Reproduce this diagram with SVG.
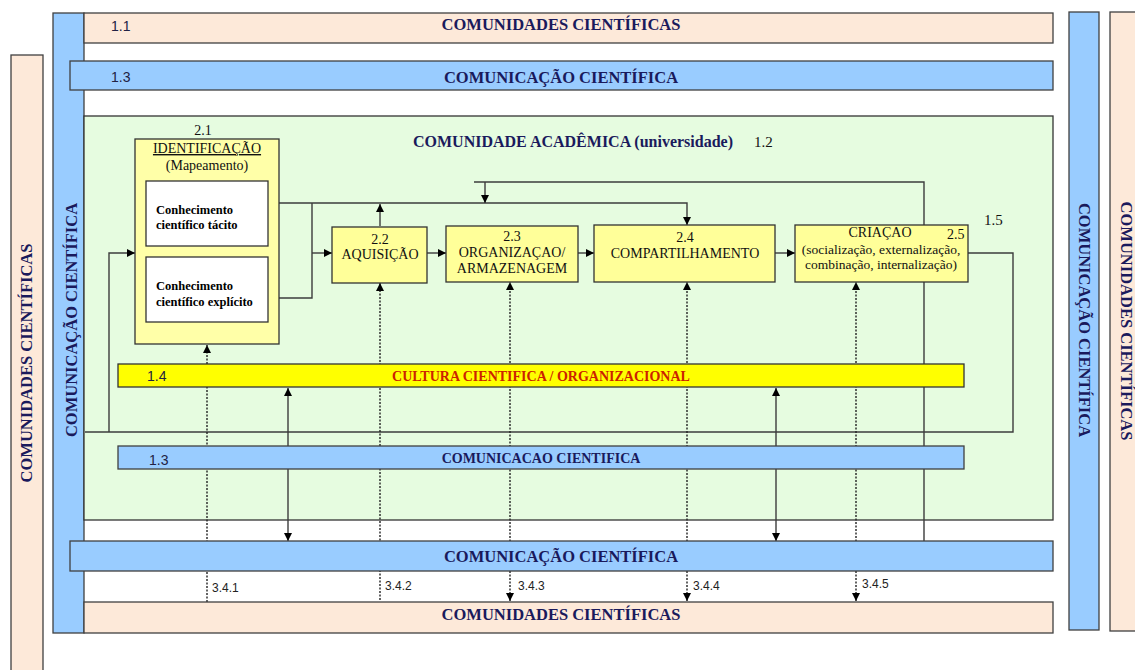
<svg xmlns="http://www.w3.org/2000/svg" width="1135" height="670" viewBox="0 0 1135 670">
<defs>
<style>
.peach{fill:#fde9d9;stroke:#404040;stroke-width:1.3}
.blue{fill:#99ccff;stroke:#404040;stroke-width:1.3}
.green{fill:#e6fce0;stroke:#333;stroke-width:1.3}
.box{fill:#ffff99;stroke:#333;stroke-width:1.3}
.ibox{fill:#ffffa8;stroke:#333;stroke-width:1.3}
.wbox{fill:#fff;stroke:#333;stroke-width:1.3}
.ln{fill:none;stroke:#3c3c3c;stroke-width:1.4}
.dot{fill:none;stroke:#222;stroke-width:1.4;stroke-dasharray:2 1.5}
.hd{font-family:"Liberation Serif",serif;font-weight:bold;fill:#1a1a5c}
.sr{font-family:"Liberation Serif",serif;fill:#111}
.num{font-family:"Liberation Sans",sans-serif;fill:#222244;font-size:14px}
.sm{font-family:"Liberation Sans",sans-serif;fill:#222;font-size:12px}
.kb{font-family:"Liberation Serif",serif;font-weight:bold;fill:#000;font-size:12.5px}
</style>
<marker id="ah" viewBox="0 0 10 10" refX="10" refY="5" markerWidth="9" markerHeight="8" orient="auto-start-reverse" markerUnits="userSpaceOnUse">
<path d="M0,0 L10,5 L0,10 z" fill="#000"/>
</marker>
</defs>
<rect width="1135" height="670" fill="#fff"/>

<g id="background">
<g id="left-peach">
<rect class="peach" x="11" y="55" width="32" height="630"/>
<text class="hd" font-size="16.5" transform="translate(32,363) rotate(-90)" text-anchor="middle">COMUNIDADES CIENTÍFICAS</text>
</g>
<g id="left-blue">
<rect class="blue" x="53" y="13" width="31" height="620"/>
<text class="hd" font-size="16.5" transform="translate(77,320) rotate(-90)" text-anchor="middle">COMUNICAÇÃO CIENTÍFICA</text>
</g>
<g id="right-blue">
<rect class="blue" x="1069" y="12" width="30" height="618"/>
<text class="hd" font-size="16.5" transform="translate(1079,320) rotate(90)" text-anchor="middle">COMUNICAÇÃO CIENTÍFICA</text>
</g>
<g id="right-peach">
<rect class="peach" x="1110" y="12" width="40" height="619"/>
<text class="hd" font-size="16.5" transform="translate(1121,321) rotate(90)" text-anchor="middle">COMUNIDADES CIENTÍFICAS</text>
</g>
<g id="top-peach">
<rect class="peach" x="84" y="13" width="969" height="30"/>
<text class="num" x="111" y="31">1.1</text>
<text class="hd" font-size="16.5" x="561" y="30" text-anchor="middle">COMUNIDADES CIENTÍFICAS</text>
</g>
<g id="top-blue">
<rect class="blue" x="70" y="61" width="983" height="29"/>
<text class="num" x="111" y="82">1.3</text>
<text class="hd" font-size="16.5" x="561" y="83" text-anchor="middle">COMUNICAÇÃO CIENTÍFICA</text>
</g>
<g id="academic">
<rect class="green" x="84" y="116" width="969" height="404"/>
<text class="hd" font-size="16" x="413" y="147">COMUNIDADE ACADÊMICA (universidade)</text>
<text class="sr" font-size="15" x="754" y="147">1.2</text>
<text class="sr" font-size="15" x="984" y="225">1.5</text>
</g>
</g>

<g id="connectors">
<path class="ln" d="M968,253 H1013 V432 H85"/>
<path class="ln" d="M109,432 V253 H135" marker-end="url(#ah)"/>
<path class="ln" d="M268,203 H687 V225" marker-end="url(#ah)"/>
<path class="ln" d="M268,298 H312 V203"/>
<path class="ln" d="M312,253 H332" marker-end="url(#ah)"/>
<path class="ln" d="M380,226 V204" marker-end="url(#ah)"/>
<path class="ln" d="M924,541 V182 H474"/>
<path class="ln" d="M485,182 V203" marker-end="url(#ah)"/>
<path class="ln" d="M427,253 H446" marker-end="url(#ah)"/>
<path class="ln" d="M578,253 H594" marker-end="url(#ah)"/>
<path class="ln" d="M775,253 H795" marker-end="url(#ah)"/>
<path class="ln" d="M288,541 V388" marker-start="url(#ah)" marker-end="url(#ah)"/>
<path class="ln" d="M776,541 V388" marker-start="url(#ah)" marker-end="url(#ah)"/>
<path class="dot" d="M207,602 V345" marker-end="url(#ah)"/>
<path class="dot" d="M380,600 V283" marker-end="url(#ah)"/>
<path class="dot" d="M510,601 V282" marker-start="url(#ah)" marker-end="url(#ah)"/>
<path class="dot" d="M687,601 V282" marker-start="url(#ah)" marker-end="url(#ah)"/>
<path class="dot" d="M856,601 V282" marker-start="url(#ah)" marker-end="url(#ah)"/>
</g>

<g id="bar-cultura">
<rect x="118" y="364" width="846" height="23" fill="#ffff00" stroke="#333" stroke-width="1.3"/>
<text class="num" x="147" y="381">1.4</text>
<text font-family="Liberation Serif, serif" font-weight="bold" font-size="14" fill="#cc2200" x="541" y="381" text-anchor="middle">CULTURA CIENTIFICA / ORGANIZACIONAL</text>
</g>
<g id="bar-comunicacao-inner">
<rect class="blue" x="118" y="446" width="846" height="23"/>
<text class="num" x="149" y="465">1.3</text>
<text class="hd" font-size="14" x="541" y="463" text-anchor="middle">COMUNICACAO CIENTIFICA</text>
</g>
<g id="bottom-blue">
<rect class="blue" x="70" y="541" width="983" height="30"/>
<text class="hd" font-size="16.5" x="561" y="562" text-anchor="middle">COMUNICAÇÃO CIENTÍFICA</text>
</g>
<g id="bottom-peach">
<rect class="peach" x="84" y="602" width="969" height="31"/>
<text class="hd" font-size="16.5" x="561" y="620" text-anchor="middle">COMUNIDADES CIENTÍFICAS</text>
</g>
<g id="labels-3-4">
<text class="sm" x="212" y="592">3.4.1</text>
<text class="sm" x="385" y="590">3.4.2</text>
<text class="sm" x="518" y="590">3.4.3</text>
<text class="sm" x="693" y="590">3.4.4</text>
<text class="sm" x="862" y="588">3.4.5</text>
</g>

<g id="identificacao">
<rect class="ibox" x="135" y="139" width="144" height="205"/>
<text class="sr" font-size="14" x="203" y="135" text-anchor="middle">2.1</text>
<text class="sr" font-size="14" x="207" y="153" text-anchor="middle" text-decoration="underline">IDENTIFICAÇÃO</text>
<text class="sr" font-size="14" x="207" y="170" text-anchor="middle">(Mapeamento)</text>
<g id="tacito">
<rect class="wbox" x="146" y="181" width="122" height="65"/>
<text class="kb" x="156" y="214">Conhecimento</text>
<text class="kb" x="156" y="229">científico tácito</text>
</g>
<g id="explicito">
<rect class="wbox" x="146" y="257" width="122" height="65"/>
<text class="kb" x="156" y="290">Conhecimento</text>
<text class="kb" x="156" y="306">científico explícito</text>
</g>
</g>
<g id="aquisicao">
<rect class="box" x="332" y="227" width="95" height="56"/>
<text class="sr" font-size="14" x="380" y="244" text-anchor="middle">2.2</text>
<text class="sr" font-size="14" x="380" y="259" text-anchor="middle">AQUISIÇÃO</text>
</g>
<g id="organizacao">
<rect class="box" x="446" y="226" width="132" height="56"/>
<text class="sr" font-size="14" x="512" y="241" text-anchor="middle">2.3</text>
<text class="sr" font-size="14" x="512" y="257" text-anchor="middle">ORGANIZAÇAO/</text>
<text class="sr" font-size="14" x="512" y="273" text-anchor="middle">ARMAZENAGEM</text>
</g>
<g id="compartilhamento">
<rect class="box" x="594" y="225" width="181" height="57"/>
<text class="sr" font-size="14" x="685" y="242" text-anchor="middle">2.4</text>
<text class="sr" font-size="14" x="685" y="258" text-anchor="middle">COMPARTILHAMENTO</text>
</g>
<g id="criacao">
<rect class="box" x="795" y="225" width="173" height="57"/>
<text class="sr" font-size="14" x="880" y="237" text-anchor="middle">CRIAÇAO</text>
<text class="sr" font-size="14" x="947" y="239">2.5</text>
<text class="sr" font-size="13.5" x="881" y="254" text-anchor="middle">(socialização, externalização,</text>
<text class="sr" font-size="13.5" x="881" y="269" text-anchor="middle">combinação, internalização)</text>
</g>
</svg>
